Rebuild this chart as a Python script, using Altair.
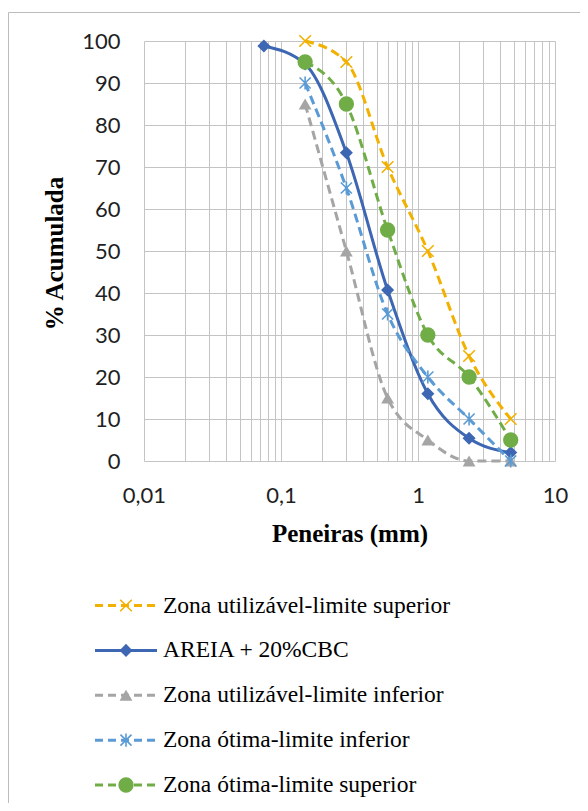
import altair as alt
import pandas as pd

# ---------------- data ----------------
SIEVES = [0.15, 0.3, 0.6, 1.18, 2.36, 4.75]
SAMPLE_SIEVES = [0.075, 0.15, 0.3, 0.6, 1.18, 2.36, 4.75]

UTIL_SUP = [100, 95, 70, 50, 25, 10]
AMOSTRA = [98.8, 94.5, 73.4, 40.7, 16, 5.4, 2]
UTIL_INF = [85, 50, 15, 5, 0, 0]
OTIMA_INF = [90, 65, 35, 20, 10, 0]
OTIMA_SUP = [95, 85, 55, 30, 20, 5]

NAMES = [
    "Zona utilizável-limite superior",
    "AREIA + 20%CBC",
    "Zona utilizável-limite inferior",
    "Zona ótima-limite inferior",
    "Zona ótima-limite superior",
]

Y_TICKS = list(range(0, 101, 10))
X_DECADES = [0.01, 0.1, 1]
X_LAST = 10
X_LABELS = ["0,01", "0,1", "1", "10"]
MINOR = [1, 2, 3, 4, 5, 6, 7, 8, 9]

X_TICKS = [round(m * d, 4) for d in X_DECADES for m in MINOR] + [X_LAST]
X_LABEL_VALUES = X_DECADES + [X_LAST]

# ---------------- styles ----------------
GRID = "#c4c4c4"
TXT = "#1f1f1f"
SERIF = "Liberation Serif"
SANS = "Lato"

X_PATH = "M-1,-1L1,1M-1,1L1,-1"
AST_PATH = "M-0.85,-0.85L0.85,0.85M-0.85,0.85L0.85,-0.85M0,-1L0,1"

STYLES = [
    dict(color="#F2B100", dash=[9, 5], shape=X_PATH, filled=False, size=135, sw=1.6),
    dict(color="#3D66B3", dash=None, shape="diamond", filled=True, size=170, sw=1),
    dict(color="#A5A5A5", dash=[9, 5], shape="triangle-up", filled=True, size=165, sw=1),
    dict(color="#5B9BD5", dash=[9, 5], shape=AST_PATH, filled=False, size=170, sw=1.6),
    dict(color="#70AD47", dash=[9, 5], shape="circle", filled=True, size=235, sw=1),
]
SERIES_X = [SIEVES, SAMPLE_SIEVES, SIEVES, SIEVES, SIEVES]
SERIES_Y = [UTIL_SUP, AMOSTRA, UTIL_INF, OTIMA_INF, OTIMA_SUP]

label_expr = " : ".join(
    f"datum.value == {v} ? '{t}'" for v, t in zip(X_LABEL_VALUES, X_LABELS)
) + " : ''"

x_axis = alt.Axis(
    values=X_TICKS, labelExpr=label_expr, grid=True, gridColor=GRID, gridWidth=1,
    domain=False, ticks=False, labelFont=SANS, labelFontSize=22, labelColor=TXT,
    labelPadding=24, labelOverlap=False, labelFlush=False, labelBound=False,
    titleFont=SERIF, titleFontSize=25, titleFontWeight="bold", titleColor="black",
    titleX=205.5, titleY=80, titleBaseline="alphabetic", titleAlign="center",
)
y_axis = alt.Axis(
    values=Y_TICKS, grid=True, gridColor=GRID, gridWidth=1, domain=False, ticks=False,
    labelFont=SANS, labelFontSize=22, labelColor=TXT, labelPadding=24,
    labelOverlap=False, labelFlush=False,
    titleFont=SERIF, titleFontSize=25, titleFontWeight="bold", titleColor="black",
    titleAngle=270, titleX=-82, titleY=212, titleBaseline="alphabetic", titleAlign="center",
)

x_enc = alt.X("x:Q", scale=alt.Scale(type="log", domain=[0.01, 10], nice=False),
              axis=x_axis, title="Peneiras (mm)")
y_enc = alt.Y("y:Q", scale=alt.Scale(domain=[0, 100], nice=False, zero=False),
              axis=y_axis, title="% Acumulada")

main_layers = []
for name, xs, ys, st in zip(NAMES, SERIES_X, SERIES_Y, STYLES):
    df = pd.DataFrame({"x": xs, "y": ys, "serie": name})
    line_kw = dict(interpolate="monotone", strokeWidth=3, color=st["color"])
    if st["dash"]:
        line_kw["strokeDash"] = st["dash"]
    main_layers.append(alt.Chart(df).mark_line(**line_kw).encode(x=x_enc, y=y_enc))
    main_layers.append(
        alt.Chart(df).mark_point(
            shape=st["shape"], filled=st["filled"], size=st["size"], color=st["color"],
            strokeWidth=st["sw"], opacity=1,
        ).encode(x=x_enc, y=y_enc)
    )
main = alt.layer(*main_layers)

# ---------------- legend (own scales) ----------------
lx_scale = alt.Scale(domain=[0, 1], range=[-49, 13])
ly = alt.Y("r:Q", scale=alt.Scale(domain=[0, 4], range=[564.5, 744]), axis=None)

leg_layers = []
for i, (name, st) in enumerate(zip(NAMES, STYLES)):
    ldf = pd.DataFrame({"r": [i], "x0": [0], "x1": [1], "xm": [0.5], "xt": [1], "label": [name]})
    rule_kw = dict(strokeWidth=3, color=st["color"])
    if st["dash"]:
        rule_kw["strokeDash"] = [8, 5]
    leg_layers.append(
        alt.Chart(ldf).mark_rule(**rule_kw).encode(
            x=alt.X("x0:Q", scale=lx_scale, axis=None), x2="x1:Q", y=ly)
    )
    leg_layers.append(
        alt.Chart(ldf).mark_point(
            shape=st["shape"], filled=st["filled"], size=st["size"], color=st["color"],
            strokeWidth=st["sw"], opacity=1,
        ).encode(x=alt.X("xm:Q", scale=lx_scale, axis=None), y=ly)
    )
    leg_layers.append(
        alt.Chart(ldf).mark_text(
            align="left", baseline="middle", dx=6, font=SERIF, fontSize=23.5, color="black",
        ).encode(x=alt.X("xt:Q", scale=lx_scale, axis=None), y=ly, text="label:N")
    )
legend = alt.layer(*leg_layers)

frame = alt.Chart(pd.DataFrame({"k": [0]})).mark_rect(
    fillOpacity=0, stroke="#bcbcbc", strokeWidth=1
).encode(x=alt.value(-135.5), x2=alt.value(700), y=alt.value(-28.5), y2=alt.value(900))

chart = alt.layer(frame, main, legend).resolve_scale(
    x="independent", y="independent"
).properties(
    width=411, height=420,
    padding={"left": 136, "top": 33, "right": 25, "bottom": 342},
    autosize=alt.AutoSizeParams(type="none"),
    background="white",
).configure_view(stroke=None)

chart.save("out.html", embed_options={"renderer": "svg", "actions": False})
